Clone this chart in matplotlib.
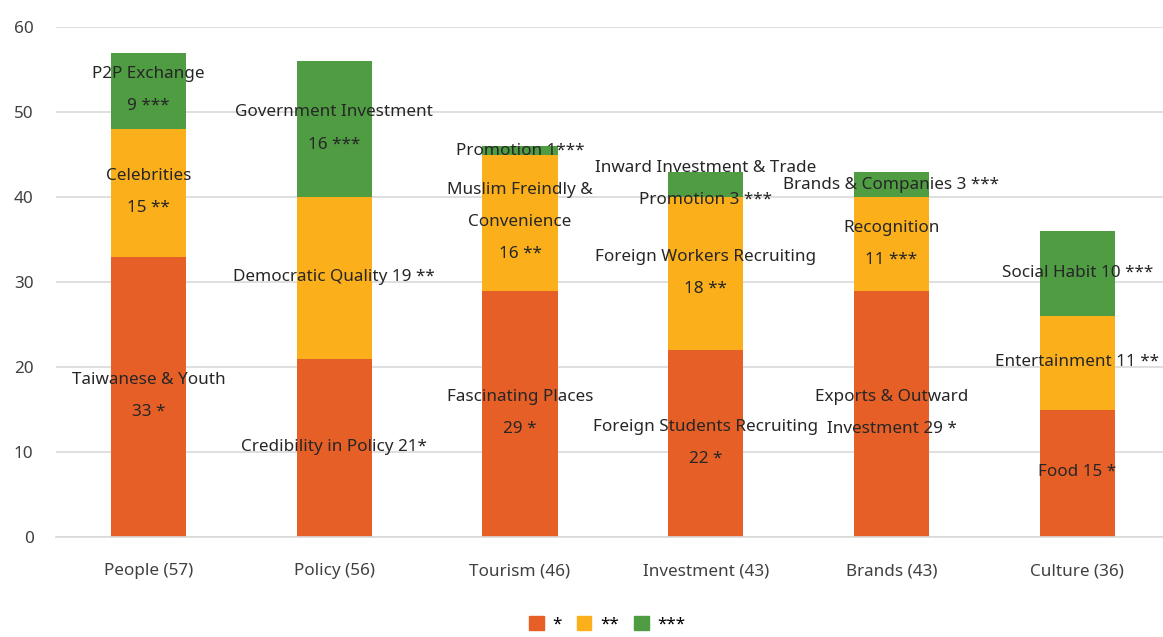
import matplotlib
matplotlib.use("Agg")
import matplotlib.pyplot as plt
from matplotlib.patches import Patch

plt.rcParams['font.family'] = ['Noto Sans', 'DejaVu Sans']

categories = ["People (57)", "Policy (56)", "Tourism (46)", "Investment (43)", "Brands (43)", "Culture (36)"]
one_star = [33, 21, 29, 22, 29, 15]
two_star = [15, 19, 16, 18, 11, 11]
three_star = [9, 16, 1, 3, 3, 10]

labels_one = ["Taiwanese & Youth\n33 *", "Credibility in Policy 21*", "Fascinating Places\n29 *",
              "Foreign Students Recruiting\n22 *", "Exports & Outward\nInvestment 29 *", "Food 15 *"]
labels_two = ["Celebrities\n15 **", "Democratic Quality 19 **", "Muslim Freindly &\nConvenience\n16 **",
              "Foreign Workers Recruiting\n18 **", "Recognition\n11 ***", "Entertainment 11 **"]
labels_three = ["P2P Exchange\n9 ***", "Government Investment\n16 ***", "Promotion 1***",
                "Inward Investment & Trade\nPromotion 3 ***", "Brands & Companies 3 ***", "Social Habit 10 ***"]

# where each label's text block is centred (y, data units)
pos_one = [16.6, 10.6, 14.6, 11.1, 14.6, 7.6]
pos_two = [40.6, 30.6, 37.1, 31.1, 34.5, 20.6]
pos_three = [52.6, 48.1, 45.5, 41.6, 41.5, 31.1]

c1, c2, c3 = "#E65F27", "#FAAF1B", "#4F9C43"
fs = 12.3

fig = plt.figure(figsize=(11.63, 6.37), dpi=100)
ax = fig.add_axes([0.048, 0.157, 0.958, 0.8])

x = list(range(len(categories)))
w = 0.405
bottom2 = [a for a in one_star]
bottom3 = [a + b for a, b in zip(one_star, two_star)]
ax.bar(x, one_star, w, color=c1, zorder=2)
ax.bar(x, two_star, w, bottom=bottom2, color=c2, zorder=2)
ax.bar(x, three_star, w, bottom=bottom3, color=c3, zorder=2)

for labels, ys in ((labels_one, pos_one), (labels_two, pos_two), (labels_three, pos_three)):
    for i, (t, y) in enumerate(zip(labels, ys)):
        ax.text(i, y, t, ha="center", va="center", fontsize=fs, color="#262626",
                linespacing=2.35, zorder=3)

ax.set_xlim(-0.5, 5.5)
ax.set_ylim(0, 60)
ax.set_yticks(range(0, 61, 10))
ax.set_xticks(x)
ax.set_xticklabels(categories)
ax.tick_params(axis="both", length=0, labelsize=fs, labelcolor="#404040")
ax.tick_params(axis="x", pad=19)
ax.tick_params(axis="y", pad=16)
ax.grid(axis="y", color="#D9D9D9", linewidth=1.2, zorder=0)
for s in ("top", "right", "left"):
    ax.spines[s].set_visible(False)
ax.spines["bottom"].set_color("#D9D9D9")
ax.spines["bottom"].set_linewidth(1.2)

handles = [Patch(color=c1, label="*"), Patch(color=c2, label="**"), Patch(color=c3, label="***")]
fig.legend(handles=handles, loc="lower center", ncol=3, frameon=False, fontsize=fs,
           bbox_to_anchor=(0.522, -0.018), handlelength=0.85, handleheight=0.85,
           columnspacing=0.9, handletextpad=0.5)

fig.savefig("out.png", dpi=100)
